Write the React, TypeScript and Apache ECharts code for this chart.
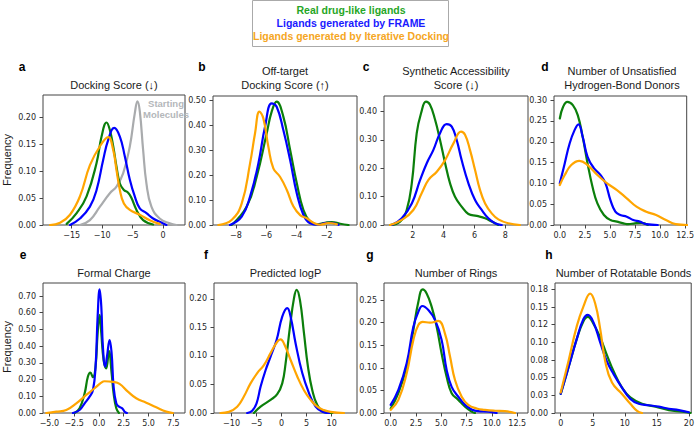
import React, { useEffect, useRef } from "react";
import * as echarts from "echarts";

// ---------- Data (x, density) ----------
// a: Docking Score
const dockStart = [[-13.64,0],[-12.0,0.009],[-10.36,0.034],[-8.73,0.059],[-7.64,0.071],[-6.54,0.096],[-5.45,0.146],[-4.64,0.207],[-4.2,0.229],[-3.82,0.211],[-3.27,0.139],[-2.73,0.077],[-1.91,0.034],[-0.55,0.012],[1.09,0.003],[2.2,0]];
const dockReal = [[-15.82,0.002],[-14.18,0.022],[-12.55,0.053],[-10.91,0.115],[-10.09,0.164],[-9.27,0.19],[-8.73,0.176],[-8.18,0.146],[-7.64,0.108],[-7.09,0.077],[-6.43,0.065],[-5.73,0.06],[-5.18,0.05],[-4.36,0.028],[-3.27,0.009],[-1.63,0.001]];
const dockFrame = [[-15.27,0],[-13.64,0.012],[-12.0,0.034],[-10.91,0.065],[-9.82,0.121],[-9.0,0.158],[-8.02,0.18],[-7.09,0.164],[-6.27,0.127],[-5.45,0.084],[-4.64,0.053],[-3.82,0.031],[-2.73,0.022],[-1.63,0.012],[0.0,0.003],[0.55,0]];
const dockIter = [[-18.55,0],[-16.9,0.004],[-15.27,0.019],[-13.64,0.053],[-12.0,0.111],[-10.36,0.146],[-9.0,0.163],[-8.18,0.139],[-7.64,0.102],[-7.09,0.065],[-6.43,0.04],[-5.45,0.028],[-3.82,0.019],[-2.18,0.009],[-0.55,0.002]];

// b: Off-target Docking Score
const offReal = [[-8.29,0],[-7.29,0.074],[-6.63,0.194],[-5.97,0.369],[-5.64,0.456],[-5.31,0.496],[-4.87,0.436],[-4.42,0.302],[-3.98,0.168],[-3.54,0.06],[-3.1,0.013],[-2.66,0.003],[-2.11,0.009],[-1.66,0.012],[-1.11,0.005],[-0.56,0]];
const offFrame = [[-8.4,0],[-7.62,0.034],[-7.07,0.114],[-6.52,0.248],[-6.08,0.395],[-5.64,0.489],[-5.31,0.476],[-4.87,0.382],[-4.42,0.261],[-3.98,0.127],[-3.54,0.04],[-3.1,0.007],[-2.55,0.001],[-2.11,0.008],[-1.77,0.009],[-1.22,0.001]];
const offIter = [[-9.17,0],[-8.29,0.02],[-7.62,0.087],[-7.07,0.248],[-6.74,0.369],[-6.45,0.456],[-6.19,0.429],[-5.86,0.315],[-5.53,0.228],[-5.09,0.194],[-4.64,0.141],[-4.2,0.074],[-3.76,0.04],[-3.32,0.027],[-2.88,0.009],[-2.44,0.001],[-1.89,0.008],[-1.33,0.003]];

// c: Synthetic Accessibility Score
const saReal = [[0.53,0],[1.18,0.012],[1.61,0.053],[1.94,0.147],[2.26,0.324],[2.54,0.394],[2.86,0.435],[3.12,0.424],[3.45,0.371],[3.77,0.3],[4.1,0.218],[4.42,0.147],[4.74,0.1],[5.17,0.065],[5.61,0.039],[6.15,0.032],[6.69,0.024],[7.12,0.012],[7.55,0]];
const saFrame = [[0.64,0],[1.29,0.024],[1.94,0.076],[2.48,0.159],[2.91,0.218],[3.34,0.265],[3.77,0.324],[4.2,0.356],[4.53,0.347],[4.85,0.3],[5.17,0.229],[5.61,0.147],[6.04,0.088],[6.47,0.053],[6.9,0.024],[7.33,0.006],[7.77,0]];
const saIter = [[0.53,0],[1.29,0.018],[2.04,0.053],[2.58,0.112],[3.02,0.159],[3.56,0.188],[4.1,0.229],[4.64,0.288],[5.13,0.329],[5.39,0.318],[5.71,0.265],[6.04,0.194],[6.36,0.124],[6.69,0.076],[7.12,0.041],[7.55,0.02],[8.2,0.006],[8.95,0]];

// d: Number of Unsatisfied Hydrogen-Bond Donors
const hbdReal = [[0,0.256],[0.33,0.284],[0.75,0.296],[1.3,0.288],[1.79,0.264],[2.28,0.212],[2.77,0.148],[3.26,0.092],[3.75,0.052],[4.4,0.024],[5.05,0.012],[5.7,0.008],[6.35,0.004],[6.84,0.002],[7.49,0.004],[8.14,0.005],[8.79,0]];
const hbdFrame = [[0,0.1],[0.49,0.148],[0.98,0.196],[1.47,0.228],[1.86,0.242],[2.28,0.212],[2.77,0.164],[3.42,0.136],[4.07,0.12],[4.56,0.1],[5.05,0.06],[5.54,0.032],[6.03,0.024],[6.68,0.02],[7.33,0.012],[7.98,0.008],[8.63,0.002],[9.77,0]];
const hbdIter = [[0,0.096],[0.49,0.12],[1.14,0.144],[1.95,0.154],[2.77,0.144],[3.75,0.12],[4.72,0.1],[5.7,0.084],[6.68,0.064],[7.65,0.044],[8.63,0.032],[9.61,0.024],[10.59,0.012],[11.56,0.002],[12.7,0]];

// e: Formal Charge
const chargeReal = [[-2.45,0],[-1.95,0.028],[-1.44,0.118],[-1.11,0.218],[-0.87,0.242],[-0.6,0.214],[-0.34,0.277],[-0.13,0.477],[0.07,0.587],[0.24,0.477],[0.47,0.317],[0.74,0.267],[1.01,0.37],[1.28,0.238],[1.48,0.118],[1.75,0.028],[2.02,0]];
const chargeFrame = [[-2.62,0],[-1.95,0.018],[-1.44,0.058],[-0.94,0.098],[-0.6,0.138],[-0.34,0.277],[-0.13,0.577],[0.07,0.74],[0.24,0.637],[0.4,0.397],[0.64,0.277],[0.81,0.337],[1.08,0.437],[1.28,0.357],[1.48,0.158],[1.75,0.058],[2.02,0.038],[2.35,0.028],[2.59,0.008],[2.82,0]];
const chargeIter = [[-5.31,0],[-4.3,0.008],[-3.29,0.018],[-2.28,0.058],[-1.28,0.108],[-0.44,0.148],[0.24,0.182],[0.57,0.19],[1.41,0.186],[2.08,0.174],[2.92,0.128],[3.76,0.088],[4.77,0.062],[5.78,0.034],[6.79,0.008],[7.46,0]];

// f: Predicted logP
const logpReal = [[-5.53,0],[-4.2,0.011],[-2.2,0.023],[-0.87,0.033],[0.13,0.052],[0.8,0.087],[1.67,0.151],[2.47,0.201],[3.0,0.216],[3.67,0.198],[4.47,0.14],[5.27,0.081],[6.13,0.04],[7.13,0.014],[8.47,0.002],[10.13,0]];
const logpFrame = [[-6.87,0],[-5.87,0.004],[-5.0,0.017],[-4.2,0.046],[-3.2,0.075],[-2.2,0.099],[-1.0,0.128],[0.13,0.169],[1.13,0.184],[1.8,0.169],[2.8,0.122],[4.13,0.07],[5.47,0.035],[6.8,0.011],[8.13,0.002],[9.47,0]];
const logpIter = [[-12.2,0],[-10.53,0.002],[-8.87,0.011],[-7.53,0.029],[-6.2,0.052],[-4.87,0.07],[-3.53,0.084],[-2.2,0.105],[-0.87,0.125],[-0.2,0.129],[0.47,0.122],[1.8,0.093],[3.13,0.064],[4.47,0.04],[5.8,0.023],[7.13,0.011],[8.47,0.005],[9.8,0.002],[12.47,0]];

// g: Number of Rings
const ringsReal = [[0,0.01],[0.76,0.044],[1.58,0.103],[2.24,0.184],[2.73,0.246],[3.16,0.274],[3.55,0.265],[4.05,0.235],[4.54,0.191],[5.03,0.132],[5.53,0.08],[6.02,0.044],[6.68,0.029],[7.34,0.014],[7.99,0.003],[8.32,0]];
const ringsFrame = [[0,0.018],[0.76,0.051],[1.58,0.11],[2.24,0.191],[2.73,0.224],[3.13,0.237],[3.72,0.228],[4.38,0.206],[5.03,0.162],[5.53,0.095],[6.02,0.058],[6.68,0.036],[7.34,0.018],[7.99,0.008],[8.65,0.004],[9.64,0.003],[10.46,0]];
const ringsIter = [[0,0.007],[0.76,0.029],[1.58,0.088],[2.24,0.162],[2.73,0.195],[3.16,0.202],[3.88,0.2],[4.7,0.204],[5.36,0.176],[5.86,0.125],[6.35,0.073],[7.01,0.036],[7.66,0.018],[8.49,0.01],[9.31,0.007],[10.3,0.005],[11.28,0.004],[12.27,0]];

// h: Number of Rotatable Bonds
const rotReal = [[0,0.027],[1.2,0.064],[2.51,0.105],[3.55,0.13],[4.23,0.136],[5.12,0.126],[6.16,0.107],[7.21,0.082],[8.25,0.059],[9.56,0.036],[10.86,0.022],[12.69,0.013],[14.78,0.009],[16.87,0.004],[18.96,0.002],[20.26,0]];
const rotFrame = [[0,0.027],[1.2,0.064],[2.51,0.105],[3.55,0.133],[4.23,0.139],[5.12,0.128],[6.16,0.1],[7.21,0.073],[8.25,0.055],[9.56,0.036],[10.86,0.02],[12.17,0.013],[13.73,0.011],[15.3,0.009],[16.87,0.006],[18.43,0.004],[20.0,0.001]];
const rotIter = [[0,0.029],[1.2,0.073],[2.51,0.123],[3.55,0.151],[4.6,0.169],[5.38,0.155],[6.16,0.119],[6.95,0.073],[8.0,0.043],[9.56,0.027],[10.86,0.013],[11.91,0.003],[12.69,0]];

// ---------- Ticks ----------
const dockXTicks = [-15, -10, -5, 0];
const dockYTicks = [0, 0.05, 0.1, 0.15, 0.2];
const offXTicks = [-8, -6, -4, -2];
const offYTicks = [0, 0.1, 0.2, 0.3, 0.4, 0.5];
const saXTicks = [2, 4, 6, 8];
const saYTicks = [0, 0.1, 0.2, 0.3, 0.4];
const hbdXTicks = [0, 2.5, 5, 7.5, 10, 12.5];
const hbdYTicks = [0, 0.05, 0.1, 0.15, 0.2, 0.25, 0.3];
const chargeXTicks = [-5, -2.5, 0, 2.5, 5, 7.5];
const chargeYTicks = [0, 0.1, 0.2, 0.3, 0.4, 0.5, 0.6, 0.7];
const logpXTicks = [-10, -5, 0, 5, 10];
const logpYTicks = [0, 0.05, 0.1, 0.15, 0.2];
const ringsXTicks = [0, 2.5, 5, 7.5, 10, 12.5];
const ringsYTicks = [0, 0.05, 0.1, 0.15, 0.2, 0.25];
const rotXTicks = [0, 5, 10, 15, 20];
const rotYTicks = [0, 0.025, 0.05, 0.075, 0.1, 0.125, 0.15, 0.175];
const rotYLabels = ["0.00", "0.03", "0.05", "0.08", "0.10", "0.12", "0.15", "0.18"];

// ---------- Text ----------
const legendLabels = ["Real drug-like ligands", "Ligands generated by FRAME", "Ligands generated by Iterative Docking"];
const panelLetters = ["a", "b", "c", "d", "e", "f", "g", "h"];
const panelTitles = [
  ["Docking Score (\u2193)"],
  ["Off-target", "Docking Score (\u2191)"],
  ["Synthetic Accessibility", "Score (\u2193)"],
  ["Number of Unsatisfied", "Hydrogen-Bond Donors"],
  ["Formal Charge"],
  ["Predicted logP"],
  ["Number of Rings"],
  ["Number of Rotatable Bonds"],
];

const GREEN = "#0b7f0b";
const BLUE = "#0000ff";
const ORANGE = "#ffa500";
const GRAY = "#a9abad";
const LEG_GREEN = "#26a626";
const LEG_BLUE = "#1a1aff";
const LEG_ORANGE = "#f5a623";

const TICK_FONT = "DejaVu Sans, sans-serif";
const TEXT_FONT = "Liberation Sans, Arial, Helvetica, sans-serif";

const fmt = (v: number, d: number) => {
  const s = Math.abs(v).toFixed(d);
  return v < -1e-9 ? "\u2212" + s : s;
};

export default function App() {
  const ref = useRef<HTMLDivElement>(null);
  useEffect(() => {
    const chart = echarts.init(ref.current!, null, { renderer: "svg" });

    const panels = [
      { box: [43, 95, 142, 130], x: [-19.7, 3.6], y: [0, 0.241], xt: dockXTicks, xd: 0, yt: dockYTicks, yl: null as string[] | null, s: [[GRAY, dockStart], [GREEN, dockReal], [BLUE, dockFrame], [ORANGE, dockIter]] },
      { box: [213, 96, 144, 129], x: [-9.52, 0.0], y: [0, 0.519], xt: offXTicks, xd: 0, yt: offYTicks, yl: null, s: [[GREEN, offReal], [BLUE, offFrame], [ORANGE, offIter]] },
      { box: [384, 96, 144, 129], x: [0.14, 9.47], y: [0, 0.455], xt: saXTicks, xd: 0, yt: saYTicks, yl: null, s: [[GREEN, saReal], [BLUE, saFrame], [ORANGE, saIter]] },
      { box: [554, 96, 136, 129], x: [-0.58, 12.66], y: [0, 0.31], xt: hbdXTicks, xd: 1, yt: hbdYTicks, yl: null, s: [[GREEN, hbdReal], [BLUE, hbdFrame], [ORANGE, hbdIter]] },
      { box: [43, 283, 142, 130], x: [-5.64, 8.68], y: [0, 0.778], xt: chargeXTicks, xd: 1, yt: chargeYTicks, yl: null, s: [[GREEN, chargeReal], [BLUE, chargeFrame], [ORANGE, chargeIter]] },
      { box: [214, 283, 143, 130], x: [-13.5, 15.06], y: [0, 0.228], xt: logpXTicks, xd: 0, yt: logpYTicks, yl: null, s: [[GREEN, logpReal], [BLUE, logpFrame], [ORANGE, logpIter]] },
      { box: [384, 283, 144, 130], x: [-0.66, 13.56], y: [0, 0.288], xt: ringsXTicks, xd: 1, yt: ringsYTicks, yl: null, s: [[GREEN, ringsReal], [BLUE, ringsFrame], [ORANGE, ringsIter]] },
      { box: [555, 283, 137, 130], x: [-0.89, 20.36], y: [0, 0.184], xt: rotXTicks, xd: 0, yt: rotYTicks, yl: rotYLabels, s: [[GREEN, rotReal], [BLUE, rotFrame], [ORANGE, rotIter]] },
    ];

    const grid: any[] = [];
    const xAxis: any[] = [];
    const yAxis: any[] = [];
    const series: any[] = [];
    const graphic: any[] = [];

    panels.forEach((p, i) => {
      const [l, t, w, h] = p.box;
      grid.push({ left: l, top: t, width: w, height: h, show: true, borderColor: "#444", borderWidth: 1, backgroundColor: "transparent", containLabel: false });
      xAxis.push({
        type: "value", gridIndex: i, min: p.x[0], max: p.x[1], position: "bottom",
        axisLine: { show: false, onZero: false },
        splitLine: { show: false },
        axisTick: { show: true, inside: false, length: 3.5, lineStyle: { color: "#444", width: 1 }, customValues: p.xt },
        axisLabel: { show: true, customValues: p.xt, margin: 6, fontSize: 8, fontFamily: TICK_FONT, color: "#262626", formatter: (v: number) => fmt(v, p.xd) },
      });
      yAxis.push({
        type: "value", gridIndex: i, min: p.y[0], max: p.y[1], position: "left",
        axisLine: { show: false, onZero: false },
        splitLine: { show: false },
        axisTick: { show: true, inside: false, length: 3.5, lineStyle: { color: "#444", width: 1 }, customValues: p.yt },
        axisLabel: {
          show: true, customValues: p.yt, margin: 7, fontSize: 8, fontFamily: TICK_FONT, color: "#262626",
          formatter: (v: number) => {
            if (p.yl) {
              let best = 0;
              p.yt.forEach((tv, k) => { if (Math.abs(tv - v) < Math.abs(p.yt[best] - v)) best = k; });
              return p.yl[best];
            }
            return v.toFixed(2);
          },
        },
      });
      p.s.forEach(([color, data]: any, k: number) => {
        series.push({
          type: "line", xAxisIndex: i, yAxisIndex: i, data,
          smooth: 0.45, showSymbol: false, symbol: "none", silent: true,
          lineStyle: { color, width: 2.2, join: "round", cap: "round" }, itemStyle: { color }, z: 2 + k,
        });
      });
      const cx = l + w / 2;
      const titles = panelTitles[i];
      const baseY = i < 4 ? 85 : 273;
      titles.forEach((txt, k) => {
        graphic.push({
          type: "text", x: cx, y: baseY - (titles.length - 1 - k) * 14,
          style: { text: txt, fill: "#1a1a1a", font: `11px ${TEXT_FONT}`, align: "center", verticalAlign: "middle", textAlign: "center", textVerticalAlign: "middle" },
        });
      });
    });

    const letterPos = [[22, 67], [202, 67], [366, 67], [545, 67], [23, 255], [206, 255], [370, 255], [549, 255]];
    panelLetters.forEach((ch, i) => {
      graphic.push({
        type: "text", x: letterPos[i][0], y: letterPos[i][1],
        style: { text: ch, fill: "#000", font: `bold 12px ${TEXT_FONT}`, align: "center", verticalAlign: "middle", textAlign: "center", textVerticalAlign: "middle" },
      });
    });

    [160, 347].forEach((yy) => {
      graphic.push({
        type: "text", x: 7, y: yy, rotation: Math.PI / 2,
        style: { text: "Frequency", fill: "#1a1a1a", font: `11px ${TEXT_FONT}`, align: "center", verticalAlign: "middle", textAlign: "center", textVerticalAlign: "middle" },
      });
    });

    ["Starting", "Molecules"].forEach((txt, k) => {
      graphic.push({
        type: "text", x: 166, y: 103 + k * 11, z: 100,
        style: { text: txt, fill: "#b4b7ba", font: `bold 9.5px ${TEXT_FONT}`, align: "center", verticalAlign: "middle", textAlign: "center", textVerticalAlign: "middle" },
      });
    });

    graphic.push({
      type: "rect", shape: { x: 252.5, y: 0.5, width: 196, height: 46 },
      style: { fill: "#fff", stroke: "#aaa", lineWidth: 1 }, z: 50,
    });
    const legColors = [LEG_GREEN, LEG_BLUE, LEG_ORANGE];
    legendLabels.forEach((txt, k) => {
      graphic.push({
        type: "text", x: 351, y: 10 + k * 13, z: 60,
        style: { text: txt, fill: legColors[k], font: `bold 10.5px ${TEXT_FONT}`, align: "center", verticalAlign: "middle", textAlign: "center", textVerticalAlign: "middle" },
      });
    });

    chart.setOption({
      animation: false,
      backgroundColor: "#fff",
      grid, xAxis, yAxis, series, graphic,
    });
    return () => chart.dispose();
  }, []);
  return <div ref={ref} style={{ position: "fixed", left: 0, top: 0, width: 697, height: 427, background: "#fff" }} />;
}
